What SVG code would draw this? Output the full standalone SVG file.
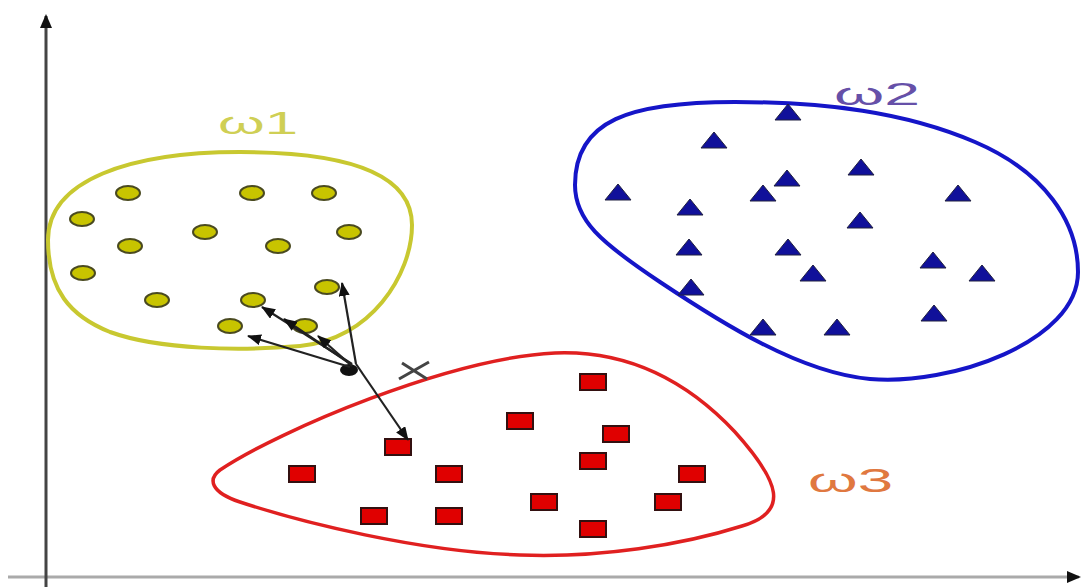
<svg xmlns="http://www.w3.org/2000/svg" width="1082" height="587" viewBox="0 0 1082 587">
<style>
.lbl{font-family:"Liberation Sans",Arial,sans-serif;}
.circ{fill:#c8c400;stroke:#4a4a20;stroke-width:2;}
.tri{fill:#10109a;stroke:#202040;stroke-width:1;}
.sq{fill:#e00000;stroke:#331010;stroke-width:2;}
.arr{stroke:#222;stroke-width:2.2;fill:none;marker-end:url(#ah);}
</style>
<defs>
<marker id="ah" markerWidth="14" markerHeight="11" refX="13" refY="5.5" orient="auto" markerUnits="userSpaceOnUse" viewBox="0 0 14 11"><path d="M0,0 L14,5.5 L0,11 Z" fill="#111"/></marker>
<marker id="axh" markerWidth="14" markerHeight="12" refX="12" refY="6" orient="auto" markerUnits="userSpaceOnUse" viewBox="0 0 14 12"><path d="M0,0 L14,6 L0,12 Z" fill="#111"/></marker>
</defs>
<rect width="1082" height="587" fill="#fff"/>
<g id="axes">
<line x1="8" y1="577" x2="1079" y2="577" stroke="#aaa" stroke-width="3" marker-end="url(#axh)"/>
<line x1="46" y1="587" x2="46" y2="16" stroke="#444" stroke-width="3" marker-end="url(#axh)"/>
</g>
<g id="class1">
<path d="M48,240 C48,180 130,152 240,152 C340,152 412,170 412,225 C412,275 370,340 300,346 C240,351 160,350 110,332 C70,316 48,290 48,240 Z" fill="none" stroke="#c8c830" stroke-width="4"/>
<g>
<ellipse class="circ" cx="128" cy="193" rx="12" ry="7"/>
<ellipse class="circ" cx="252" cy="193" rx="12" ry="7"/>
<ellipse class="circ" cx="324" cy="193" rx="12" ry="7"/>
<ellipse class="circ" cx="82" cy="219" rx="12" ry="7"/>
<ellipse class="circ" cx="205" cy="232" rx="12" ry="7"/>
<ellipse class="circ" cx="349" cy="232" rx="12" ry="7"/>
<ellipse class="circ" cx="130" cy="246" rx="12" ry="7"/>
<ellipse class="circ" cx="278" cy="246" rx="12" ry="7"/>
<ellipse class="circ" cx="83" cy="273" rx="12" ry="7"/>
<ellipse class="circ" cx="157" cy="300" rx="12" ry="7"/>
<ellipse class="circ" cx="253" cy="300" rx="12" ry="7"/>
<ellipse class="circ" cx="327" cy="287" rx="12" ry="7"/>
<ellipse class="circ" cx="230" cy="326" rx="12" ry="7"/>
<ellipse class="circ" cx="305" cy="326" rx="12" ry="7"/>
</g>
<text class="lbl" x="218" y="134" font-size="32" fill="#cfcf55" textLength="80" lengthAdjust="spacingAndGlyphs">ω1</text>
</g>
<g id="class2">
<path d="M575,185 C575,120 630,102 735,102 C825,102 905,112 975,142 C1045,172 1078,222 1078,272 C1078,342 950,386 870,379 C800,373 720,322 660,282 C600,242 575,220 575,185 Z" fill="none" stroke="#1515c8" stroke-width="4"/>
<g>
<path class="tri" d="M788,104 l13,16 h-26 z"/>
<path class="tri" d="M714,132 l13,16 h-26 z"/>
<path class="tri" d="M618,184 l13,16 h-26 z"/>
<path class="tri" d="M690,199 l13,16 h-26 z"/>
<path class="tri" d="M763,185 l13,16 h-26 z"/>
<path class="tri" d="M787,170 l13,16 h-26 z"/>
<path class="tri" d="M861,159 l13,16 h-26 z"/>
<path class="tri" d="M958,185 l13,16 h-26 z"/>
<path class="tri" d="M860,212 l13,16 h-26 z"/>
<path class="tri" d="M689,239 l13,16 h-26 z"/>
<path class="tri" d="M788,239 l13,16 h-26 z"/>
<path class="tri" d="M813,265 l13,16 h-26 z"/>
<path class="tri" d="M933,252 l13,16 h-26 z"/>
<path class="tri" d="M982,265 l13,16 h-26 z"/>
<path class="tri" d="M691,279 l13,16 h-26 z"/>
<path class="tri" d="M763,319 l13,16 h-26 z"/>
<path class="tri" d="M837,319 l13,16 h-26 z"/>
<path class="tri" d="M934,305 l13,16 h-26 z"/>
</g>
<text class="lbl" x="834" y="105" font-size="32" fill="#6650a8" textLength="86" lengthAdjust="spacingAndGlyphs">ω2</text>
</g>
<g id="class3">
<path d="M220,470 C280,430 450,358 555,353 C630,350 688,382 735,432 C780,482 790,512 742,526 C682,545 600,558 520,555 C420,552 300,522 240,502 C210,492 208,479 220,470 Z" fill="none" stroke="#e02020" stroke-width="3.5"/>
<g>
<rect class="sq" x="580" y="374" width="26" height="16"/>
<rect class="sq" x="507" y="413" width="26" height="16"/>
<rect class="sq" x="603" y="426" width="26" height="16"/>
<rect class="sq" x="385" y="439" width="26" height="16"/>
<rect class="sq" x="580" y="453" width="26" height="16"/>
<rect class="sq" x="289" y="466" width="26" height="16"/>
<rect class="sq" x="436" y="466" width="26" height="16"/>
<rect class="sq" x="679" y="466" width="26" height="16"/>
<rect class="sq" x="531" y="494" width="26" height="16"/>
<rect class="sq" x="655" y="494" width="26" height="16"/>
<rect class="sq" x="361" y="508" width="26" height="16"/>
<rect class="sq" x="436" y="508" width="26" height="16"/>
<rect class="sq" x="580" y="521" width="26" height="16"/>
</g>
<text class="lbl" x="808" y="492" font-size="33" fill="#e07840" textLength="85" lengthAdjust="spacingAndGlyphs">ω3</text>
</g>
<g id="query">
<ellipse cx="349" cy="370" rx="9" ry="6" fill="#111"/>
<path d="M399,379 L429,362 M402,363 L427,379" stroke="#444" stroke-width="3" fill="none"/>
</g>
<g id="connectors">
<line class="arr" x1="356" y1="364" x2="342" y2="283"/>
<line class="arr" x1="356" y1="364" x2="408" y2="440"/>
<line class="arr" x1="352" y1="364" x2="262" y2="307"/>
<line class="arr" x1="352" y1="365" x2="284" y2="319"/>
<line class="arr" x1="352" y1="366" x2="318" y2="336"/>
<line class="arr" x1="350" y1="367" x2="248" y2="336"/>
</g>
</svg>
